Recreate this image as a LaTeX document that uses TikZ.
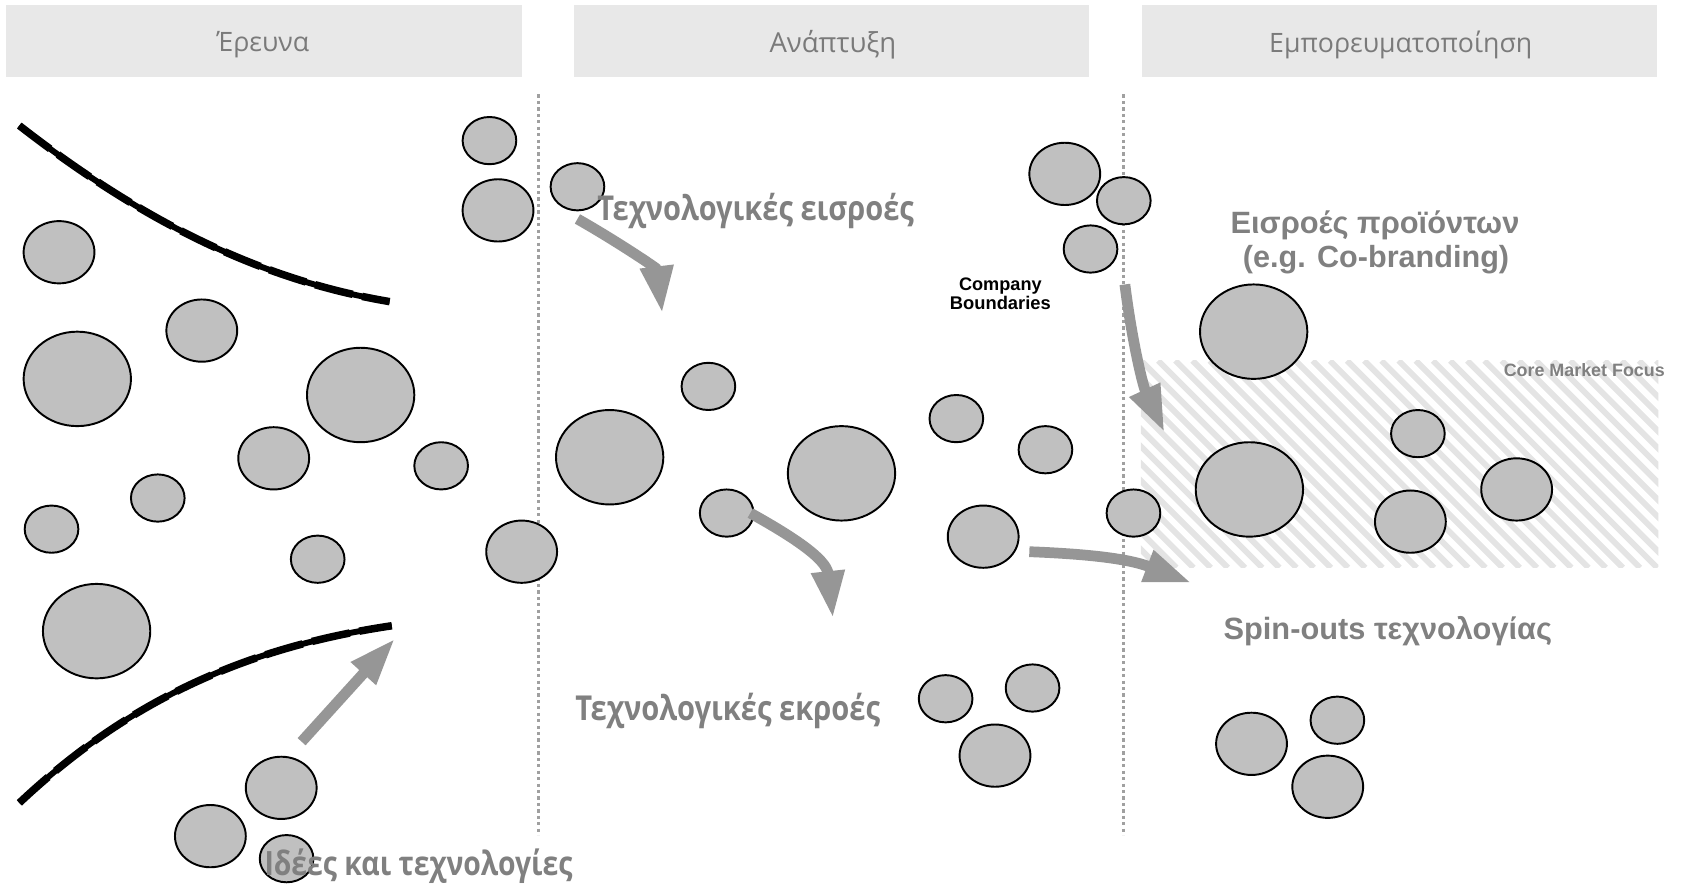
\documentclass[tikz,border=0pt]{standalone}
\usepackage{fontspec}
\usepackage{graphicx}
\usetikzlibrary{shapes.geometric,arrows.meta}
\setmainfont{Liberation Sans}
\newfontfamily\grfont{Open Sans}
\newfontfamily\arfont{Liberation Sans}
\newcommand\fitw[2]{\resizebox{#1}{!}{#2}}
\newcommand\fitwt[2]{\scalebox{1}[1.18]{\resizebox{#1}{!}{#2}}}
\definecolor{hdrfill}{HTML}{E8E8E8}
\definecolor{hdrtext}{HTML}{7A7A7A}
\definecolor{lblgray}{HTML}{808080}
\definecolor{arrgray}{HTML}{969696}
\definecolor{blobfill}{HTML}{C0C0C0}
\definecolor{hatchgray}{HTML}{E4E4E4}
\definecolor{sepgray}{HTML}{A0A0A0}
\tikzset{
  hdr/.style={fill=hdrfill, draw=none, minimum width=480pt, minimum height=67pt, inner sep=0pt},
  hdrtxt/.style={inner sep=0pt, text=hdrtext},
  blob/.style={ellipse, draw=black, line width=1.8pt, fill=blobfill, inner sep=0pt},
  bs/.style={blob, minimum width=50pt, minimum height=44pt},
  bm/.style={blob, minimum width=66pt, minimum height=58pt},
  bl/.style={blob, minimum width=100pt, minimum height=88pt},
  bigarrow/.style={draw=arrgray, line width=10pt, -{Triangle[length=44pt,width=29pt,fill=arrgray]}},
  sepline/.style={draw=sepgray, line width=3pt, dash pattern=on 3pt off 3pt},
  hatch/.style={draw=hatchgray, line width=5.5pt},
  lbl/.style={inner sep=0pt, text=lblgray},
  boundary/.style={draw=black, line width=5.5pt},
  boundarydash/.style={draw=black, line width=7pt, dash pattern=on 36pt off 9pt},
}
\begin{document}
\begin{tikzpicture}[x=1pt,y=-1pt]
\useasboundingbox (0,0) rectangle (1568,829);
% headers
\node[hdr] (h1) at (246,38.5) {};
\node[hdr] (h2) at (775,38.5) {};
\node[hdr] (h3) at (1304,38.5) {};
\node[hdrtxt] (h1t) at (245,41.5) {\fitw{86pt}{\grfont Έρευνα}};
\node[hdrtxt] (h2t) at (776,41.5) {\fitw{118pt}{\grfont Ανάπτυξη}};
\node[hdrtxt] (h3t) at (1305,41.5) {\fitw{245pt}{\grfont Εμπορευματοποίηση}};
% hatched core market area
\begin{scope}
\clip (1063,336) rectangle (1545,529);
\foreach \i in {-208,-192,...,496} \draw[hatch] (1063+\i,336) -- ++(193,193);
\end{scope}
% separators
\draw[sepline] (502,88) -- (502,778);
\draw[sepline] (1047,88) -- (1047,778);
% left blobs
\node[bs] (c1) at (456,131) {};
\node[bm] (c2) at (464,196) {};
\node[bm] (c3) at (55,235) {};
\node[bm] (c4) at (188,308) {};
\node[bl] (c5) at (72,353) {};
\node[bl] (c6) at (336,368) {};
\node[bm] (c7) at (255,427) {};
\node[bs] (c8) at (411,434) {};
\node[bs] (c9) at (147,464) {};
\node[bs] (c10) at (48,493) {};
\node[bs] (c11) at (296,521) {};
\node[bm] (c12) at (486,514) {};
\node[bl] (c13) at (90,588) {};
\node[bm] (c14) at (262,734) {};
\node[bm] (c15) at (196,779) {};
\node[bs] (c16) at (267,800) {};
% middle blobs
\node[bs] (c17) at (538,174) {};
\node[bs] (c18) at (660,360) {};
\node[bl] (c19) at (568,426) {};
\node[bl] (c20) at (784,441) {};
\node[bs] (c21) at (677,478) {};
\node[bs] (c22) at (891,390) {};
\node[bs] (c23) at (974,419) {};
\node[bm] (c24) at (916,500) {};
\node[bm] (c25) at (992,162) {};
\node[bs] (c26) at (1047,187) {};
\node[bs] (c27) at (1016,232) {};
\node[bs] (c28) at (1056,478) {};
\node[bs] (c29) at (881,651) {};
\node[bs] (c30) at (962,641) {};
\node[bm] (c31) at (927,704) {};
% right blobs
\node[bl] (c32) at (1168,309) {};
\node[bl] (c33) at (1164,456) {};
\node[bs] (c34) at (1321,404) {};
\node[bm] (c35) at (1314,486) {};
\node[bm] (c36) at (1413,456) {};
\node[bm] (c37) at (1166,693) {};
\node[bs] (c38) at (1246,671) {};
\node[bm] (c39) at (1237,733) {};
% boundary curves
\coordinate (u1) at (18,117);
\coordinate (u2) at (363,281);
\coordinate (d1) at (18,748);
\coordinate (d2) at (365,583);
\draw[boundary] (u1) .. controls (140,212) and (250,262) .. (u2);
\draw[boundarydash] (u1) .. controls (140,212) and (250,262) .. (u2);
\draw[boundary] (d1) .. controls (120,652) and (230,603) .. (d2);
\draw[boundarydash] (d1) .. controls (120,652) and (230,603) .. (d2);
% arrows
\coordinate (a1s) at (281,691);
\coordinate (a1e) at (368,595);
\draw[bigarrow] (a1s) -- (a1e);
\coordinate (a2s) at (538,204);
\coordinate (a2e) at (617,292);
\draw[bigarrow] (a2s) .. controls (575,225) and (612,250) .. (a2e);
\coordinate (a3s) at (699,478);
\coordinate (a3e) at (776,576);
\draw[bigarrow] (a3s) .. controls (735,498) and (770,520) .. (a3e);
\coordinate (a4s) at (959,514);
\coordinate (a4e) at (1110,543);
\draw[bigarrow] (a4s) .. controls (1010,516) and (1050,520) .. (a4e);
\coordinate (a5s) at (1048,265);
\coordinate (a5e) at (1085,403);
\draw[bigarrow] (a5s) .. controls (1055,320) and (1065,360) .. (a5e);
% labels
\node[lbl] (t1) at (704,197) {\fitwt{295pt}{\grfont\bfseries Τεχνολογικές εισροές}};
\node[lbl] (t2) at (678,662) {\fitwt{284pt}{\grfont\bfseries Τεχνολογικές εκροές}};
\node[lbl] (t3) at (390,807) {\fitwt{287pt}{\grfont\bfseries Ιδέες και τεχνολογίες}};
\node[lbl] (t4) at (1281,210) {\fitw{269pt}{\arfont\bfseries Εισροές προϊόντων}};
\node[lbl] (t5) at (1282,242) {\fitw{248pt}{\arfont\bfseries (e.g. Co-branding)}};
\node[lbl] (t6) at (1293,588) {\fitw{306pt}{\arfont\bfseries Spin-outs τεχνολογίας}};
\node[lbl] (t7) at (1476,345) {\fitw{150pt}{\arfont\bfseries Core Market Focus}};
\node[inner sep=0pt, align=center] (t8) at (932,274) {\fitw{77pt}{\arfont\bfseries Company}\\[1pt]\fitw{94pt}{\arfont\bfseries Boundaries}};
\end{tikzpicture}
\end{document}
